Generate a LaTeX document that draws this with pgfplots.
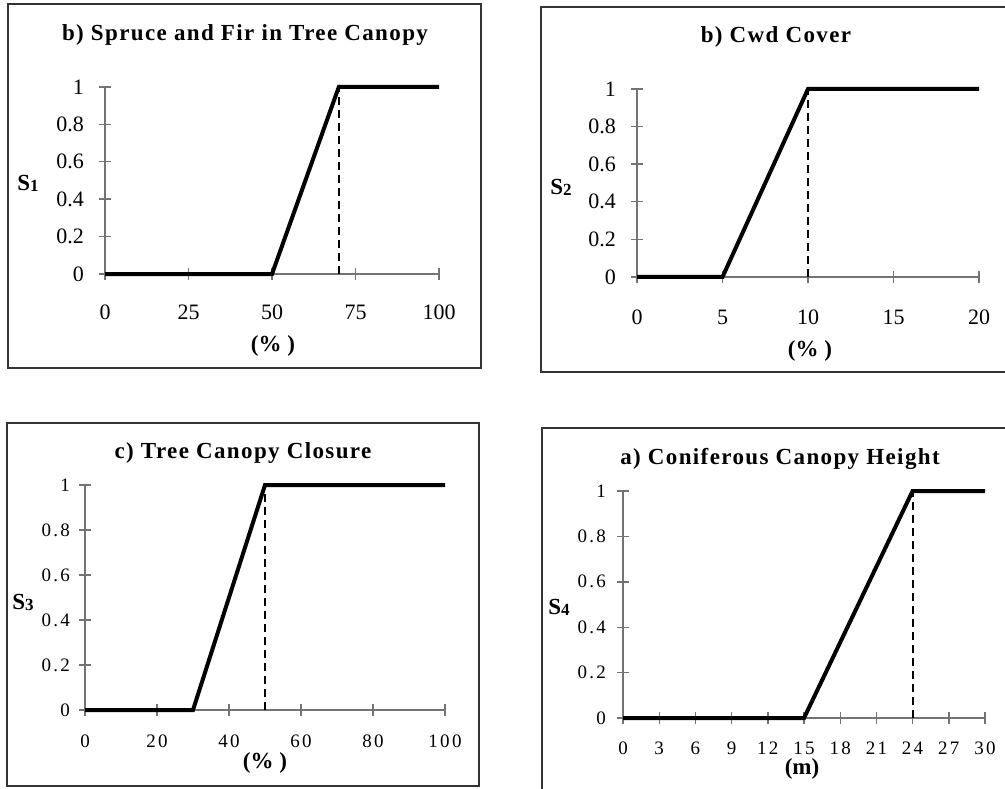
\documentclass[border=0pt]{standalone}
\usepackage{pgfplots}
\pgfplotsset{compat=1.18}
\usepackage{fontspec}
\setmainfont{Liberation Serif}
\newfontfamily\tickfont[LetterSpace=12]{Liberation Serif}
\newfontfamily\titlefont[LetterSpace=6]{Liberation Serif}

\pgfplotsset{
  panel/.style={
    scale only axis,
    anchor=south west,
    axis lines*=left,
    axis line style={-, gray!90!black, line width=0.7pt},
    major tick style={gray!90!black, line width=0.7pt},
    tick align=center,
    major tick length=6pt,
    ymin=0, ymax=1,
    ytick={0,0.2,0.4,0.6,0.8,1},
    yticklabels={0,0.2,0.4,0.6,0.8,1},
    clip=false,
    /pgf/number format/assume math mode=true,
  },
  curve/.style={black, line width=2pt, line join=miter},
  drop/.style={black, line width=0.9pt, dash pattern=on 4pt off 2.5pt},
}

\newcommand{\slab}[1]{\textbf{S}{\fontsize{8.5}{9}\selectfont\raisebox{-0.5pt}{\textbf{#1}}}}

\begin{document}
\begin{tikzpicture}[lab/.style={inner sep=0pt, font=\bfseries\fontsize{11.5}{12}\selectfont}]
\path[use as bounding box] (0pt,0pt) rectangle (502.5pt,394pt);

% frames
\draw[black!80, line width=0.75pt] (4pt,392pt) rectangle (240.5pt,210pt);
\draw[black!80, line width=0.75pt] (505pt,390.5pt) -- (270.5pt,390.5pt) -- (270.5pt,208pt) -- (505pt,208pt);
\draw[black!80, line width=0.75pt] (3.5pt,182.5pt) rectangle (239.5pt,1pt);
\draw[black!80, line width=0.75pt] (271pt,-3pt) -- (271pt,180pt) -- (505pt,180pt);

% panel 1
\begin{axis}[panel, at={(52.5pt,257pt)}, width=167pt, height=93.5pt,
  xmin=0, xmax=100, xtick={0,25,50,75,100},
  xticklabel style={font=\fontsize{11}{12}\selectfont, yshift=-9pt},
  yticklabel style={font=\fontsize{11}{12}\selectfont, xshift=-4pt}]
\addplot[drop] coordinates {(70,0) (70,1)};
\addplot[curve] coordinates {(0,0) (50,0) (70,1) (100,1)};
\end{axis}
\node[font=\titlefont\bfseries\fontsize{11.5}{12}\selectfont] at (122.5pt,376.5pt) {b) Spruce and Fir in Tree Canopy};
\node[font=\fontsize{11.5}{12}\selectfont] at (14pt,302.5pt) {\slab{1}};
\node[lab] at (136.5pt,221pt) {(\% )};

% panel 2
\begin{axis}[panel, at={(318.5pt,255.5pt)}, width=171pt, height=94pt,
  xmin=0, xmax=20, xtick={0,5,10,15,20},
  xticklabel style={font=\fontsize{11}{12}\selectfont, yshift=-10pt},
  yticklabel style={font=\fontsize{11}{12}\selectfont, xshift=-4pt}]
\addplot[drop] coordinates {(10,0) (10,1)};
\addplot[curve] coordinates {(0,0) (5,0) (10,1) (20,1)};
\end{axis}
\node[font=\titlefont\bfseries\fontsize{11.5}{12}\selectfont] at (388pt,375.5pt) {b) Cwd Cover};
\node[font=\fontsize{11.5}{12}\selectfont] at (280.5pt,300.5pt) {\slab{2}};
\node[lab] at (405pt,218.5pt) {(\% )};

% panel 3
\begin{axis}[panel, at={(42.5pt,39pt)}, width=180pt, height=112.5pt,
  xmin=0, xmax=100, xtick={0,20,40,60,80,100},
  xticklabel style={font=\tickfont\fontsize{9.5}{10}\selectfont, yshift=-6pt},
  yticklabel style={font=\tickfont\fontsize{9.5}{10}\selectfont, xshift=-1pt}]
\addplot[drop] coordinates {(50,0) (50,1)};
\addplot[curve] coordinates {(0,0) (30,0) (50,1) (100,1)};
\end{axis}
\node[font=\titlefont\bfseries\fontsize{11.5}{12}\selectfont] at (121.5pt,167.5pt) {c) Tree Canopy Closure};
\node[font=\fontsize{11.5}{12}\selectfont] at (11.5pt,93pt) {\slab{3}};
\node[lab] at (132.5pt,12.5pt) {(\% )};

% panel 4
\begin{axis}[panel, at={(311.5pt,35pt)}, width=181pt, height=113.5pt,
  xmin=0, xmax=30, xtick={0,3,...,30},
  xticklabel style={font=\tickfont\fontsize{9.5}{10}\selectfont, yshift=-5.5pt},
  yticklabel style={font=\tickfont\fontsize{9.5}{10}\selectfont, xshift=-2pt}]
\addplot[drop] coordinates {(24,0) (24,1)};
\addplot[curve] coordinates {(0,0) (15,0) (24,1) (30,1)};
\end{axis}
\node[font=\titlefont\bfseries\fontsize{11.5}{12}\selectfont] at (390pt,164.5pt) {a) Coniferous Canopy Height};
\node[font=\fontsize{11.5}{12}\selectfont] at (279.5pt,90.5pt) {\slab{4}};
\node[lab] at (401pt,9.5pt) {(m)};
\end{tikzpicture}
\end{document}
